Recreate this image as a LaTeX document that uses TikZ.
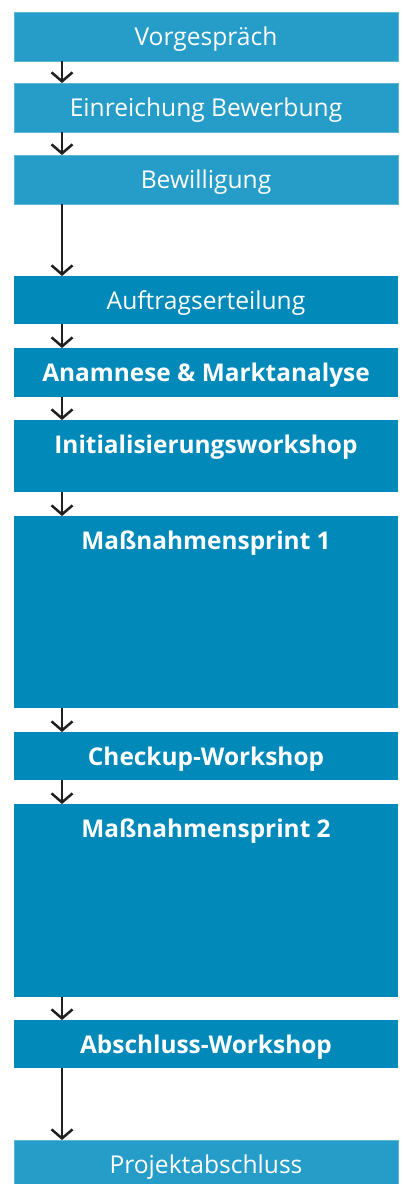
\documentclass[tikz,border=0pt]{standalone}
\usepackage{fontspec}
\setmainfont{Open Sans}
\usepackage{tikz}
\usetikzlibrary{arrows.meta}
\definecolor{hellblau}{RGB}{38,156,200}
\definecolor{hellrand}{RGB}{92,182,216}
\definecolor{dunkelblau}{RGB}{0,137,185}
\definecolor{pfeilgrau}{RGB}{35,31,32}
\tikzset{
  stufe/.style={rectangle, anchor=north west, minimum width=384pt, inner sep=0pt, outer sep=0pt},
  hell/.style={stufe, fill=hellblau, draw=hellrand, line width=0.6pt},
  dunkel/.style={stufe, fill=dunkelblau},
  titel/.style={anchor=center, yshift=-27.5pt, inner sep=0pt, text=white, font=\fontsize{24.6}{28}\selectfont},
  titelfett/.style={titel, font=\fontsize{24.4}{28}\selectfont\bfseries},
  pfeil/.style={draw=pfeilgrau, line width=2.5pt, -{Straight Barb[length=9pt,width=21pt,line width=2.5pt]}}
}

\begin{document}
\begin{tikzpicture}
    \path[use as bounding box, clip] (0,0) rectangle (403pt,-1184pt);
    \node[hell, minimum height=49pt, label={[titel]north:Vorgespräch}] (vorg) at (14pt,-12pt) {};
    \node[hell, minimum height=49pt, label={[titel]north:Einreichung Bewerbung}] (einr) at (14pt,-83pt) {};
    \node[hell, minimum height=49pt, label={[titel]north:Bewilligung}] (bew) at (14pt,-155pt) {};
    \node[dunkel, minimum height=48pt, label={[titel]north:Auftragserteilung}] (auft) at (14pt,-276pt) {};
    \node[dunkel, minimum height=49pt, label={[titelfett]north:Anamnese \& Marktanalyse}] (anam) at (14pt,-348pt) {};
    \node[dunkel, minimum height=72pt, label={[titelfett]north:Initialisierungsworkshop}] (init) at (14pt,-420pt) {};
    \node[dunkel, minimum height=192pt, label={[titelfett]north:Maßnahmensprint 1}] (sprint1) at (14pt,-516pt) {};
    \node[dunkel, minimum height=48pt, label={[titelfett]north:Checkup-Workshop}] (check) at (14pt,-732pt) {};
    \node[dunkel, minimum height=193pt, label={[titelfett]north:Maßnahmensprint 2}] (sprint2) at (14pt,-804pt) {};
    \node[dunkel, minimum height=48pt, label={[titelfett]north:Abschluss-Workshop}] (absw) at (14pt,-1020pt) {};
    \node[hell, minimum height=60pt, label={[titel]north:Projektabschluss}] (proj) at (14pt,-1140pt) {};

    \foreach \a/\b in {vorg/einr, einr/bew, bew/auft, auft/anam, anam/init, init/sprint1,
                       sprint1/check, check/sprint2, sprint2/absw, absw/proj}
        \draw[pfeil] ([xshift=48pt]\a.south west) -- ([xshift=48pt]\b.north west);
\end{tikzpicture}
\end{document}
